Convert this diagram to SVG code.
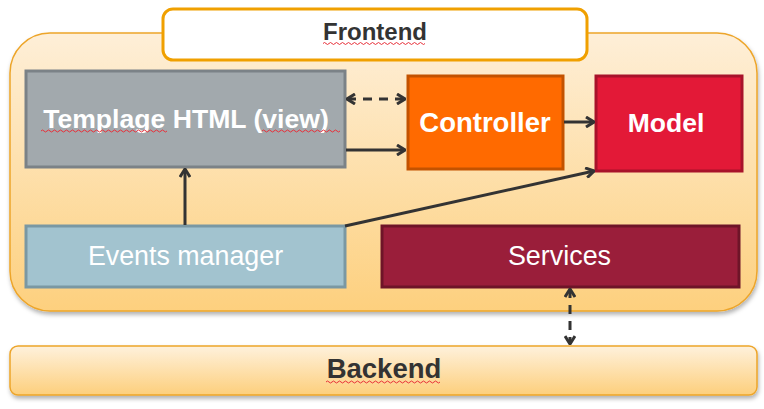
<svg xmlns="http://www.w3.org/2000/svg" width="764" height="409" viewBox="0 0 764 409">
<style>
.lbl{font-family:"Liberation Sans",Arial,sans-serif;text-anchor:middle;}
.b{font-weight:bold;}
.w{fill:#ffffff;}
.d{fill:#333333;}
.conn{stroke:#333333;stroke-width:3;fill:none;}
.dash{stroke-dasharray:9,7;}
.spell{stroke:#e8303a;stroke-width:1;fill:none;}
</style>
<defs>
<linearGradient id="gCont" x1="0" y1="0" x2="0" y2="1">
<stop offset="0" stop-color="#feefd8"/>
<stop offset="1" stop-color="#fdd07e"/>
</linearGradient>
<linearGradient id="gBack" x1="0" y1="0" x2="0" y2="1">
<stop offset="0" stop-color="#fef1dc"/>
<stop offset="1" stop-color="#fdcf7c"/>
</linearGradient>
<filter id="sh" x="-5%" y="-10%" width="110%" height="125%">
<feDropShadow dx="1" dy="3" stdDeviation="2" flood-color="#000" flood-opacity="0.3"/>
</filter>
<marker id="ah" viewBox="0 0 10 12" refX="9" refY="6" markerWidth="10" markerHeight="12" markerUnits="userSpaceOnUse" orient="auto-start-reverse">
<path d="M1,1 L9,6 L1,11" fill="none" stroke="#333333" stroke-width="3" stroke-linejoin="miter"/>
</marker>
</defs>

<g id="frontend-container">
<rect x="10" y="33" width="747" height="278" rx="40" fill="url(#gCont)" stroke="#eda52a" stroke-width="1.5" filter="url(#sh)"/>
</g>

<g id="frontend-label">
<rect x="163" y="9" width="424" height="51" rx="10" fill="#ffffff" stroke="#f0a000" stroke-width="3"/>
<text class="lbl b d" x="375" y="40" font-size="24">Frontend</text>
<path class="spell" d="M323,43.5 q1.5,-2 3,0 t3,0 t3,0 t3,0 t3,0 t3,0 t3,0 t3,0 t3,0 t3,0 t3,0 t3,0 t3,0 t3,0 t3,0 t3,0 t3,0 t3,0 t3,0 t3,0 t3,0 t3,0 t3,0 t3,0 t3,0 t3,0 t3,0 t3,0 t3,0 t3,0 t3,0 t3,0 t3,0 t3,0"/>
</g>

<g id="backend">
<rect x="10" y="346" width="747" height="49" rx="8" fill="url(#gBack)" stroke="#eda52a" stroke-width="1.5" filter="url(#sh)"/>
<text class="lbl b d" x="384" y="378" font-size="27.5">Backend</text>
<path class="spell" d="M326,382 q1.5,-2 3,0 t3,0 t3,0 t3,0 t3,0 t3,0 t3,0 t3,0 t3,0 t3,0 t3,0 t3,0 t3,0 t3,0 t3,0 t3,0 t3,0 t3,0 t3,0 t3,0 t3,0 t3,0 t3,0 t3,0 t3,0 t3,0 t3,0 t3,0 t3,0 t3,0 t3,0 t3,0 t3,0 t3,0 t3,0 t3,0 t3,0 t3,0"/>
</g>

<g id="template-view">
<rect x="26" y="71" width="319" height="96" fill="#a2a9ad" stroke="#7b8287" stroke-width="3"/>
<text class="lbl b w" x="186" y="128" font-size="26.6">Templage HTML (view)</text>
<path class="spell" d="M41,131 q1.5,-2 3,0 t3,0 t3,0 t3,0 t3,0 t3,0 t3,0 t3,0 t3,0 t3,0 t3,0 t3,0 t3,0 t3,0 t3,0 t3,0 t3,0 t3,0 t3,0 t3,0 t3,0 t3,0 t3,0 t3,0 t3,0 t3,0 t3,0 t3,0 t3,0 t3,0 t3,0 t3,0 t3,0 t3,0 t3,0 t3,0 t3,0 t3,0 t3,0 t3,0 t3,0 t3,0"/>
<path class="spell" d="M262,131 q1.5,-2 3,0 t3,0 t3,0 t3,0 t3,0 t3,0 t3,0 t3,0 t3,0 t3,0 t3,0 t3,0 t3,0 t3,0 t3,0 t3,0 t3,0 t3,0 t3,0 t3,0 t3,0 t3,0 t3,0 t3,0 t3,0 t3,0"/>
</g>

<g id="controller">
<rect x="408" y="76" width="155" height="93" fill="#ff6a00" stroke="#c35200" stroke-width="3"/>
<text class="lbl b w" x="485" y="132" font-size="27.5">Controller</text>
</g>

<g id="model">
<rect x="596" y="76" width="146" height="95" fill="#e31937" stroke="#a8122a" stroke-width="3"/>
<text class="lbl b w" x="666" y="132" font-size="26.5">Model</text>
</g>

<g id="events-manager">
<rect x="26" y="226" width="319" height="61" fill="#a2c3cf" stroke="#7a98a3" stroke-width="3"/>
<text class="lbl w" x="185.5" y="265" font-size="26.8">Events manager</text>
</g>

<g id="services">
<rect x="382" y="226" width="357" height="61" fill="#9a1e3a" stroke="#6e1428" stroke-width="3"/>
<text class="lbl w" x="559.5" y="265" font-size="26.9">Services</text>
</g>

<g id="connectors">
<line class="conn dash" x1="347" y1="99" x2="405" y2="99" marker-start="url(#ah)" marker-end="url(#ah)"/>
<line class="conn" x1="346" y1="150" x2="405" y2="150" marker-end="url(#ah)"/>
<line class="conn" x1="564" y1="122" x2="594" y2="122" marker-end="url(#ah)"/>
<line class="conn" x1="185" y1="225" x2="185" y2="169" marker-end="url(#ah)"/>
<line class="conn" x1="345" y1="226" x2="594" y2="171" marker-end="url(#ah)"/>
<line class="conn dash" x1="570" y1="289" x2="570" y2="344" marker-start="url(#ah)" marker-end="url(#ah)"/>
</g>
</svg>
